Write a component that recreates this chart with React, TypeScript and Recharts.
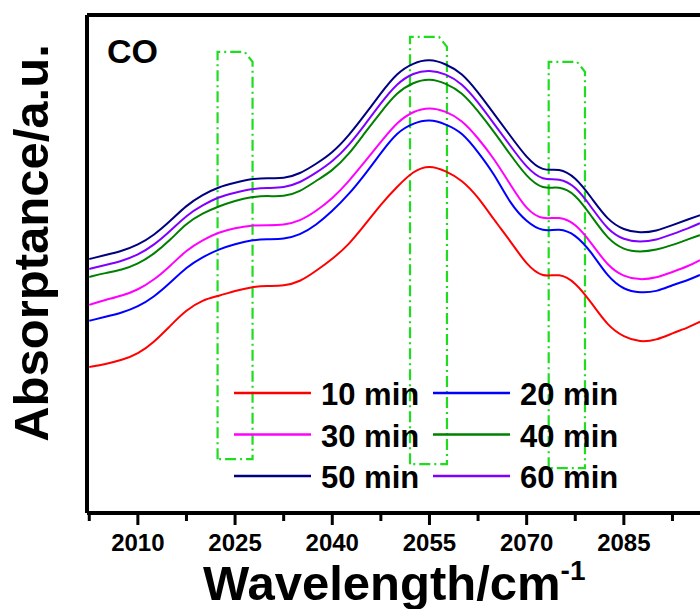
import { LineChart, Line, XAxis, YAxis, ReferenceArea, ReferenceLine } from 'recharts'

// wavenumber grid (cm-1)
const wavenumbers = [
  2002.5, 2005, 2007.5, 2010, 2012.5, 2015, 2017.5, 2020, 2022.5, 2025,
  2027.5, 2030, 2032.5, 2035, 2037.5, 2040, 2042.5, 2045, 2047.5, 2050,
  2052.5, 2055, 2057.5, 2060, 2062.5, 2065, 2067.5, 2070, 2072.5, 2075,
  2077.5, 2080, 2082.5, 2085, 2087.5, 2090, 2092.5, 2095, 2096.75,
]

// absorptance (a.u.)
const abs10 = [
  29.3, 29.9, 30.7, 31.9, 34.3, 37.6, 40.8, 42.8, 43.6, 44.6,
  45.4, 45.6, 45.6, 46.4, 48.6, 51.0, 53.8, 57.8, 62.0, 65.5,
  68.7, 69.9, 68.7, 66.9, 63.5, 58.8, 54.6, 49.8, 47.2, 48.2,
  46.4, 42.2, 37.6, 35.3, 34.3, 34.7, 36.1, 37.3, 38.4,
]
const abs20 = [
  38.6, 39.4, 40.2, 41.4, 43.4, 46.2, 49.4, 51.4, 53.0, 54.0,
  54.8, 55.0, 55.0, 55.8, 57.8, 60.6, 63.9, 67.9, 72.3, 76.5,
  78.3, 79.1, 78.1, 76.5, 72.5, 68.1, 62.0, 58.4, 56.4, 57.2,
  56.0, 52.4, 47.4, 44.8, 44.2, 44.4, 45.8, 46.8, 47.8,
]
const abs30 = [
  41.8, 42.8, 43.6, 44.8, 46.8, 49.6, 52.8, 54.8, 56.4, 57.2,
  57.8, 57.8, 57.8, 58.6, 60.6, 63.1, 66.5, 70.5, 74.5, 78.5,
  80.7, 81.5, 80.7, 78.9, 75.3, 71.1, 65.9, 60.8, 58.8, 59.6,
  58.2, 54.2, 49.6, 47.4, 46.8, 47.2, 48.4, 49.6, 50.8,
]
const abs40 = [
  47.4, 48.2, 48.8, 50.0, 52.0, 54.8, 58.2, 60.2, 61.6, 62.7,
  63.5, 63.7, 63.5, 64.5, 66.7, 68.7, 71.9, 76.3, 80.5, 84.5,
  86.5, 87.3, 86.3, 84.5, 80.7, 76.5, 71.9, 67.5, 64.9, 65.7,
  64.1, 59.6, 55.0, 52.8, 52.4, 52.8, 53.8, 55.0, 55.8,
]
const abs50 = [
  51.0, 51.8, 52.6, 53.8, 55.8, 58.6, 61.8, 63.9, 65.5, 66.3,
  67.1, 67.3, 67.1, 68.1, 70.1, 72.3, 75.7, 79.9, 84.3, 88.4,
  90.4, 91.2, 90.2, 88.4, 84.5, 80.1, 75.7, 71.3, 68.5, 69.3,
  67.5, 63.3, 58.8, 56.8, 56.2, 56.6, 57.8, 59.0, 59.8,
]
const abs60 = [
  49.0, 49.8, 50.6, 51.8, 53.8, 56.6, 59.8, 61.8, 63.5, 64.3,
  65.1, 65.3, 65.3, 66.3, 68.3, 70.5, 73.7, 77.9, 82.3, 86.3,
  88.4, 89.0, 88.2, 86.3, 82.5, 78.1, 73.7, 69.3, 66.7, 67.3,
  65.7, 61.4, 56.8, 54.8, 54.4, 54.8, 56.0, 57.2, 58.2,
]

const seriesNames = ['10 min', '20 min', '30 min', '40 min', '50 min', '60 min']
const seriesValues = [abs10, abs20, abs30, abs40, abs50, abs60]
const seriesColors = ['#ff0000', '#0000ff', '#ff00ff', '#008000', '#000080', '#8000ff']

const xDomain = [2002.15, 2096.75]
const yDomain = [0, 100]
const majorTicks = [2010, 2025, 2040, 2055, 2070, 2085]
const minorTicks = [2002.5, 2017.5, 2032.5, 2047.5, 2062.5, 2077.5, 2092.5]

// highlighted bands (x range, y range)
const bandX = [[2022.3, 2027.7], [2052.0, 2057.7], [2073.4, 2079.0]]
const bandY = [[10.8, 92.6], [9.8, 95.6], [9.0, 90.6]]

const data = wavenumbers.map((w, i) => {
  const row: any = { w }
  seriesValues.forEach((s, j) => { row['s' + j] = s[i] })
  return row
})

const FONT = "'Liberation Sans', Arial, Helvetica, sans-serif"

function WaveTick(props: any) {
  const { x, y, payload } = props
  const major = majorTicks.includes(payload.value)
  return (
    <g>
      <line x1={x} x2={x} y1={y} y2={y + (major ? 12 : 8)} stroke="#000" strokeWidth={3} />
      {major && (
        <text x={x} y={y + 38} textAnchor="middle" fontFamily={FONT} fontWeight="bold" fontSize={24} fill="#000">
          {payload.value}
        </text>
      )}
    </g>
  )
}

function BandBox(props: any) {
  const { x, y, width, height } = props
  const c = 8
  const d = `M${x},${y + height} L${x},${y} L${x + width - c},${y} L${x + width},${y + c + 2} L${x + width},${y + height} Z`
  return <path d={d} fill="none" stroke="#1fdc1f" strokeWidth={2.2} strokeDasharray="11 4 2 4" />
}

export default function App() {
  const legendRows = [0, 1, 2]
  return (
    <div style={{ position: 'absolute', left: 0, top: 0, width: 700, height: 609, background: '#fff' }}>
      <LineChart
        width={700}
        height={609}
        data={data}
        margin={{ top: 15, right: 0, bottom: 0, left: 87 }}
      >
        <XAxis
          dataKey="w"
          type="number"
          domain={xDomain}
          ticks={[...minorTicks, ...majorTicks].sort((a, b) => a - b)}
          interval={0}
          height={96}
          tickSize={0}
          tickMargin={0}
          tickLine={false}
          tick={<WaveTick />}
          axisLine={{ stroke: '#000', strokeWidth: 4 }}
        />
        <YAxis type="number" domain={yDomain} width={0} tick={false} tickLine={false} axisLine={false} />
        {seriesNames.map((n, j) => (
          <Line
            key={n}
            dataKey={'s' + j}
            name={n}
            type="basis"
            stroke={seriesColors[j]}
            strokeWidth={2}
            dot={false}
            isAnimationActive={false}
          />
        ))}
        {bandX.map((b, i) => (
          <ReferenceArea
            key={i}
            x1={b[0]}
            x2={b[1]}
            y1={bandY[i][0]}
            y2={bandY[i][1]}
            shape={<BandBox />}
          />
        ))}
        <ReferenceLine x={xDomain[0]} stroke="#000" strokeWidth={4} ifOverflow="visible" />
        <ReferenceLine y={yDomain[1]} stroke="#000" strokeWidth={4} ifOverflow="visible" />
      </LineChart>
      <svg
        width={700}
        height={609}
        style={{ position: 'absolute', left: 0, top: 0, pointerEvents: 'none' }}
        fontFamily={FONT}
        fontWeight="bold"
      >
        <text x={107} y={63} fontSize={34} fill="#000">CO</text>
        <text x={48} y={243} fontSize={49} fill="#000" textAnchor="middle" transform="rotate(-90 48 243)">
          Absorptance/a.u.
        </text>
        <text x={203} y={600} fontSize={49} fill="#000">
          Wavelength/cm<tspan fontSize={28} dy={-20}>-1</tspan>
        </text>
        {legendRows.map((r) => (
          <g key={r}>
            {[0, 1].map((c) => {
              const k = r * 2 + c
              const lx = c === 0 ? 234 : 433
              const ly = 393 + r * 41.5
              return (
                <g key={c}>
                  <line x1={lx} x2={lx + 77} y1={ly} y2={ly} stroke={seriesColors[k]} strokeWidth={2.5} />
                  <text x={lx + 87} y={ly + 12} fontSize={31} fill="#000">{seriesNames[k]}</text>
                </g>
              )
            })}
          </g>
        ))}
      </svg>
    </div>
  )
}
